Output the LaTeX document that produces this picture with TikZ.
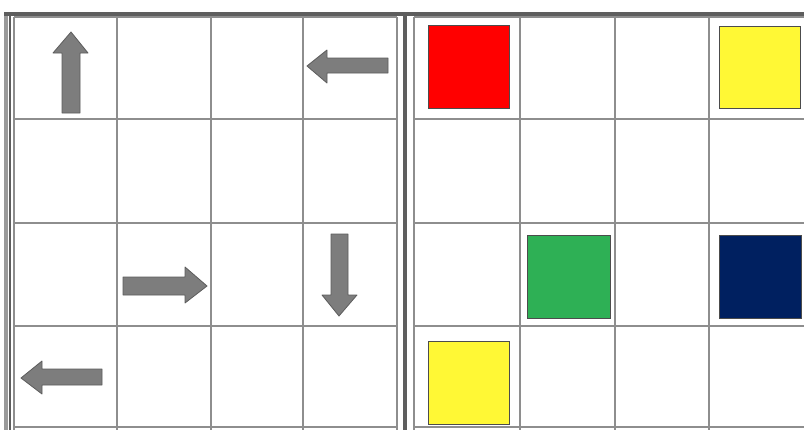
\documentclass[tikz,border=0pt]{standalone}
\usepackage{tikz}
\definecolor{gridgray}{HTML}{8E8E8E}
\definecolor{framedark}{HTML}{5E5E5E}
\definecolor{framelight}{HTML}{9A9A9A}
\definecolor{arrowfill}{HTML}{7D7D7D}
\definecolor{arrowline}{HTML}{5C5C5C}
\definecolor{sqred}{HTML}{FF0000}
\definecolor{sqyellow}{HTML}{FFF835}
\definecolor{sqgreen}{HTML}{2EB055}
\definecolor{sqnavy}{HTML}{002060}
\tikzset{
  gridline/.style={draw=gridgray, line width=2.2pt},
  arrowshape/.style={fill=arrowfill, draw=arrowline, line width=0.8pt, line join=round},
  colsquare/.style={draw=black!70, line width=0.9pt}
}
\begin{document}
\begin{tikzpicture}[x=1pt,y=-1pt]
\useasboundingbox (0,0) rectangle (804,429);
\fill[white] (0,0) rectangle (804,429);
% frames
\draw[framelight, line width=4pt] (6,12) -- (6,432);
\draw[framedark, line width=1.6pt] (10,14) -- (10,432);
\draw[framedark, line width=3.5pt] (4,14) -- (806,14);
\draw[framedark, line width=4.5pt] (405,12) -- (405,432);
% left grid
\foreach \x in {14,117,211,303,397} \draw[gridline] (\x,17) -- (\x,432);
\foreach \y in {17,119,223,326,427} \draw[gridline] (14,\y) -- (397,\y);
% right grid
\foreach \x in {414,520,615,709} \draw[gridline] (\x,17) -- (\x,432);
\foreach \y in {17,119,223,326,427} \draw[gridline] (414,\y) -- (806,\y);
% arrows
\draw[arrowshape] (71,32) -- (88,53) -- (80,53) -- (80,113) -- (62,113) -- (62,53) -- (53,53) -- cycle;
\draw[arrowshape] (307,66) -- (327,50) -- (327,58) -- (388,58) -- (388,73) -- (327,73) -- (327,83) -- cycle;
\draw[arrowshape] (207,286) -- (185,267) -- (185,277) -- (123,277) -- (123,295) -- (185,295) -- (185,303) -- cycle;
\draw[arrowshape] (339,316) -- (322,295) -- (331,295) -- (331,234) -- (348,234) -- (348,295) -- (357,295) -- cycle;
\draw[arrowshape] (21,378) -- (42,361) -- (42,369) -- (102,369) -- (102,385) -- (42,385) -- (42,394) -- cycle;
% coloured squares
\draw[colsquare, fill=sqred] (428,25) rectangle (509,108);
\draw[colsquare, fill=sqyellow] (719,26) rectangle (800,108);
\draw[colsquare, fill=sqgreen] (527,235) rectangle (610,318);
\draw[colsquare, fill=sqnavy] (719,235) rectangle (801,318);
\draw[colsquare, fill=sqyellow] (428,341) rectangle (509,424);
\end{tikzpicture}
\end{document}
